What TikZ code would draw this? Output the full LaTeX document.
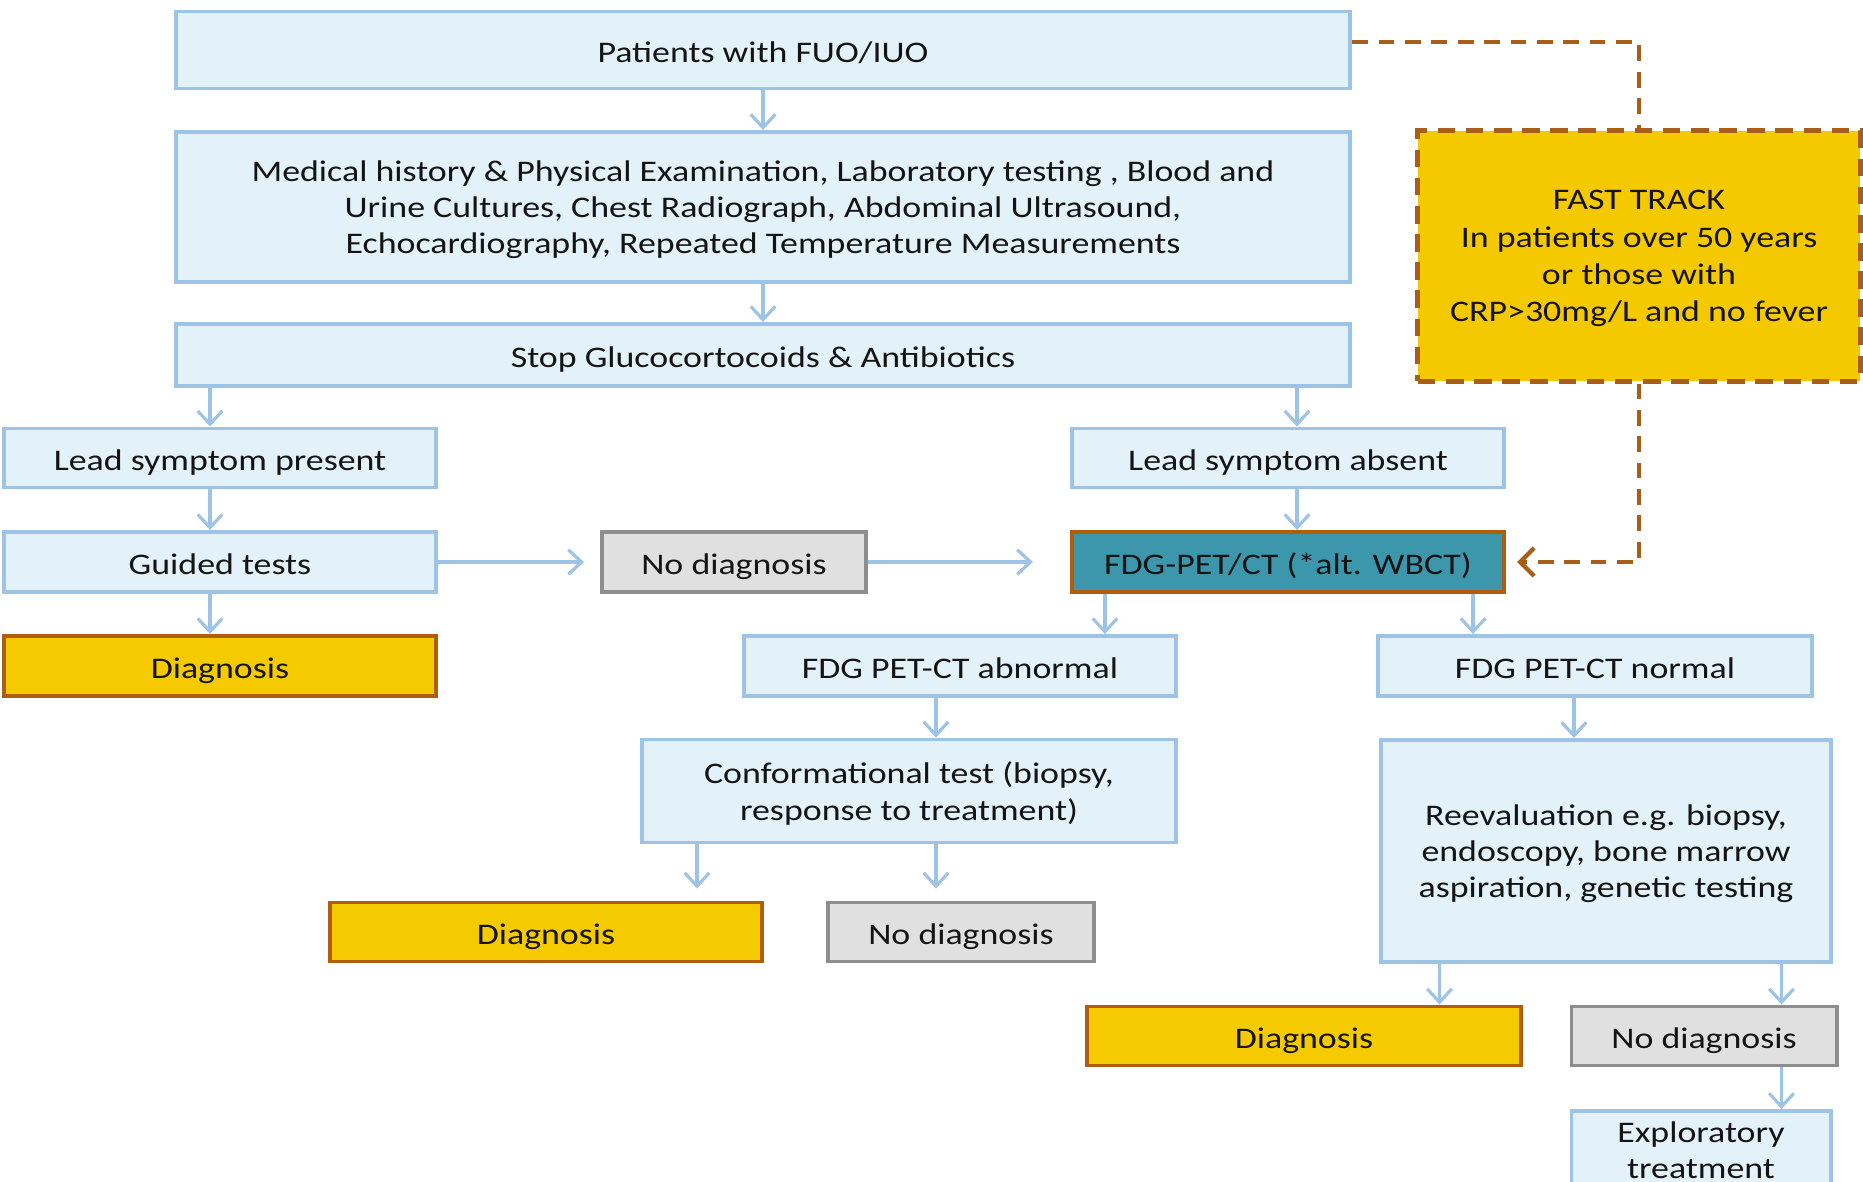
\documentclass[tikz,border=0pt]{standalone}
\usepackage{fontspec}
\setmainfont{Carlito}[FakeStretch=1.2]
\usetikzlibrary{arrows.meta}

\definecolor{boxfill}{HTML}{E3F1F8}
\definecolor{boxline}{HTML}{9DC3E6}
\definecolor{dxfill}{HTML}{F5CB00}
\definecolor{dxline}{HTML}{B05E0C}
\definecolor{nodxfill}{HTML}{E0E0E0}
\definecolor{nodxline}{HTML}{8E8E8E}
\definecolor{petfill}{HTML}{3C97AC}
\definecolor{fastfill}{HTML}{F5C900}
\definecolor{fastline}{HTML}{A95E18}

\tikzset{
  box/.style={draw=boxline, fill=boxfill, line width=1.1pt, inner sep=0pt, align=center,
    text=black!92, text depth=0pt, font=\fontsize{8.5}{10.3}\selectfont},
  oneline/.style={text height=7.2pt},
  dxbox/.style={box, oneline, draw=dxline, fill=dxfill},
  nodxbox/.style={box, oneline, draw=nodxline, fill=nodxfill},
  petbox/.style={box, oneline, draw=dxline, fill=petfill},
  fastbox/.style={box, draw=fastline, fill=fastfill, line width=1.4pt, dash pattern=on 5pt off 3pt,
    font=\fontsize{8.5}{10.6}\selectfont},
  flow/.style={draw=boxline, line width=0.9pt, -{Straight Barb[length=3.8pt,width=7pt]}},
  fastdash/.style={draw=fastline, line width=1.2pt, dash pattern=on 4.5pt off 3pt},
  fastflow/.style={fastdash, -{Straight Barb[length=4pt,width=8pt]}}
}

\begin{document}
\begin{tikzpicture}[x=0.01cm, y=-0.01cm]
    \useasboundingbox (0,0) rectangle (1863,1182);

    % main column
    \node[box, oneline, minimum width=11.74cm, minimum height=0.77cm] (pat) at (763,50) {Patients with FUO/IUO};
    \node[box, minimum width=11.74cm, minimum height=1.50cm] (med) at (763,207) {Medical history \& Physical Examination, Laboratory testing , Blood and\\Urine Cultures, Chest Radiograph, Abdominal Ultrasound,\\Echocardiography, Repeated Temperature Measurements};
    \node[box, oneline, minimum width=11.74cm, minimum height=0.62cm] (stop) at (763,355) {Stop Glucocortocoids \& Antibiotics};

    % left branch
    \node[box, oneline, minimum width=4.32cm, minimum height=0.59cm] (lsp) at (220,458) {Lead symptom present};
    \node[box, oneline, minimum width=4.32cm, minimum height=0.60cm] (guid) at (220,562) {Guided tests};
    \node[dxbox, minimum width=4.32cm, minimum height=0.60cm] (dx1) at (220,666) {Diagnosis};
    \node[nodxbox, minimum width=2.64cm, minimum height=0.60cm] (nod1) at (734,562) {No diagnosis};

    % right branch
    \node[box, oneline, minimum width=4.32cm, minimum height=0.59cm] (lsa) at (1288,458) {Lead symptom absent};
    \node[petbox, minimum width=4.32cm, minimum height=0.60cm] (pet) at (1288,562) {FDG-PET/CT (*alt. WBCT)};
    \node[fastbox, minimum width=4.42cm, minimum height=2.50cm] (fast) at (1639,256) {FAST TRACK\\In patients over 50 years\\or those with\\CRP>30mg/L and no fever};

    \node[box, oneline, minimum width=4.32cm, minimum height=0.60cm] (abn) at (960,666) {FDG PET-CT abnormal};
    \node[box, oneline, minimum width=4.33cm, minimum height=0.60cm] (norm) at (1595,666) {FDG PET-CT normal};
    \node[box, minimum width=5.34cm, minimum height=1.03cm] (conf) at (909,791) {Conformational test (biopsy,\\response to treatment)};
    \node[dxbox, minimum width=4.32cm, minimum height=0.59cm] (dx2) at (546,932) {Diagnosis};
    \node[nodxbox, minimum width=2.65cm, minimum height=0.59cm] (nod2) at (961,932) {No diagnosis};
    \node[box, minimum width=4.49cm, minimum height=2.22cm] (reev) at (1606,851) {Reevaluation e.g. biopsy,\\endoscopy, bone marrow\\aspiration, genetic testing};
    \node[dxbox, minimum width=4.33cm, minimum height=0.59cm] (dx3) at (1304,1036) {Diagnosis};
    \node[nodxbox, minimum width=2.65cm, minimum height=0.59cm] (nod3) at (1704,1036) {No diagnosis};
    \node[box, minimum width=2.59cm, minimum height=0.78cm] (expl) at (1701,1150) {Exploratory\\treatment};

    % arrow columns
    \coordinate (lspin) at ([xshift=-0.1cm]lsp.north);
    \coordinate (lsain) at ([xshift=0.09cm]lsa.north);
    \coordinate (petl) at ([xshift=0.35cm]pet.south west);
    \coordinate (petr) at ([xshift=-0.33cm]pet.south east);
    \coordinate (abnout) at ([xshift=-0.24cm]abn.south);
    \coordinate (dx2in) at ([xshift=-0.67cm]dx2.north east);
    \coordinate (reevin) at ([xshift=-0.21cm]norm.south);
    \coordinate (dx3in) at ([xshift=-0.83cm]dx3.north east);
    \coordinate (nod3in) at ([xshift=-0.57cm]nod3.north east);

    \draw[flow] (pat) -- (med);
    \draw[flow] (med) -- (stop);
    \draw[flow] (lspin |- stop.south) -- (lspin);
    \draw[flow] (lspin |- lsp.south) -- (lspin |- guid.north);
    \draw[flow] (lspin |- guid.south) -- (lspin |- dx1.north);
    \draw[flow, shorten >=0.16cm] (guid) -- (nod1);
    \draw[flow, shorten >=0.37cm] (nod1) -- (pet);
    \draw[flow] (lsain |- stop.south) -- (lsain);
    \draw[flow] (lsain |- lsa.south) -- (lsain |- pet.north);
    \draw[flow] (petl) -- (petl |- abn.north);
    \draw[flow] (petr) -- (petr |- norm.north);
    \draw[flow] (abnout) -- (abnout |- conf.north);
    \draw[flow, shorten >=0.12cm] (dx2in |- conf.south) -- (dx2in);
    \draw[flow, shorten >=0.12cm] (abnout |- conf.south) -- (abnout |- nod2.north);
    \draw[flow] (reevin) -- (reevin |- reev.north);
    \draw[flow] (dx3in |- reev.south) -- (dx3in);
    \draw[flow] (nod3in |- reev.south) -- (nod3in);
    \draw[flow] (nod3in |- nod3.south) -- (nod3in |- expl.north);

    % fast track
    \draw[fastdash] ([yshift=0.08cm]pat.east) -| (fast.north);
    \draw[fastflow, shorten >=0.11cm] (fast.south) |- (pet.east);
\end{tikzpicture}
\end{document}
